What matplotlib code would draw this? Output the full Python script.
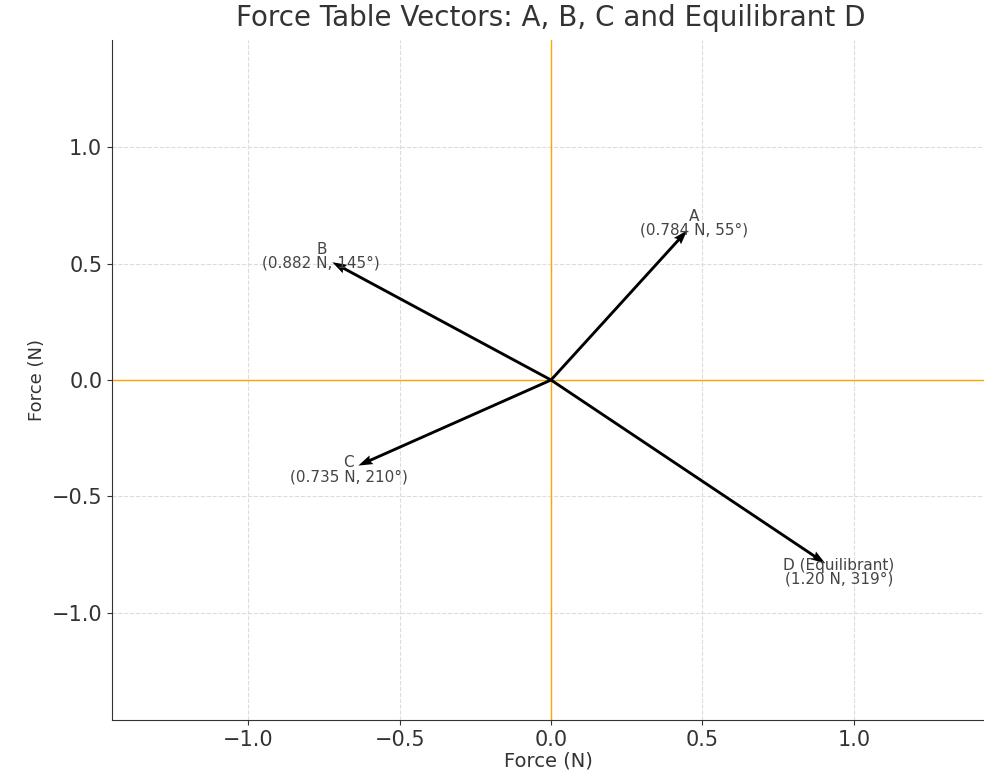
import numpy as np
import matplotlib
matplotlib.use("Agg")
import matplotlib.pyplot as plt

names = ["A", "B", "C", "D (Equilibrant)"]
magnitudes = [0.784, 0.882, 0.735, 1.20]
angles_deg = [55, 145, 210, 319]
mag_labels = ["0.784", "0.882", "0.735", "1.20"]
ticks = [-1.0, -0.5, 0.0, 0.5, 1.0]

mags = np.array(magnitudes)
ang = np.radians(angles_deg)
xs = mags * np.cos(ang)
ys = mags * np.sin(ang)

fig = plt.figure(figsize=(9.84, 7.70), dpi=100)
ax = fig.add_axes([112/984, 50/770, (984-112)/984, (720-40)/770])

ax.grid(True, linestyle="--", color="#dcdcdc", linewidth=0.8)
ax.set_axisbelow(True)
ax.axhline(0, color="orange", linewidth=1, zorder=1)
ax.axvline(0, color="orange", linewidth=1, zorder=1)

ax.quiver(np.zeros(len(xs)), np.zeros(len(ys)), xs, ys, angles="xy",
          scale_units="xy", scale=1, color="black", width=0.0033,
          headwidth=3.3, headlength=5, zorder=3)

for n, ml, a, x, y in zip(names, mag_labels, angles_deg, xs, ys):
    ax.text(x * 1.05, y * 1.05, f"{n}\n({ml} N, {a}°)", ha="center", va="center",
            fontsize=11, color="#444444", linespacing=0.9, zorder=4)

ax.set_xlim(-1.45, 1.43)
ax.set_ylim(-1.46, 1.46)
ax.set_xticks(ticks)
ax.set_yticks(ticks)
ax.tick_params(labelsize=15, colors="#333333")
for s in ["top", "right"]:
    ax.spines[s].set_visible(False)
for s in ["left", "bottom"]:
    ax.spines[s].set_color("#333333")
ax.set_xlabel("Force (N)", fontsize=14, color="#333333", labelpad=1)
ax.set_ylabel("Force (N)", fontsize=13, color="#333333", labelpad=4)
fig.suptitle("Force Table Vectors: A, B, C and Equilibrant D", fontsize=20,
             color="#333333", x=0.56, y=0.995)

fig.savefig("out.png", dpi=100)
